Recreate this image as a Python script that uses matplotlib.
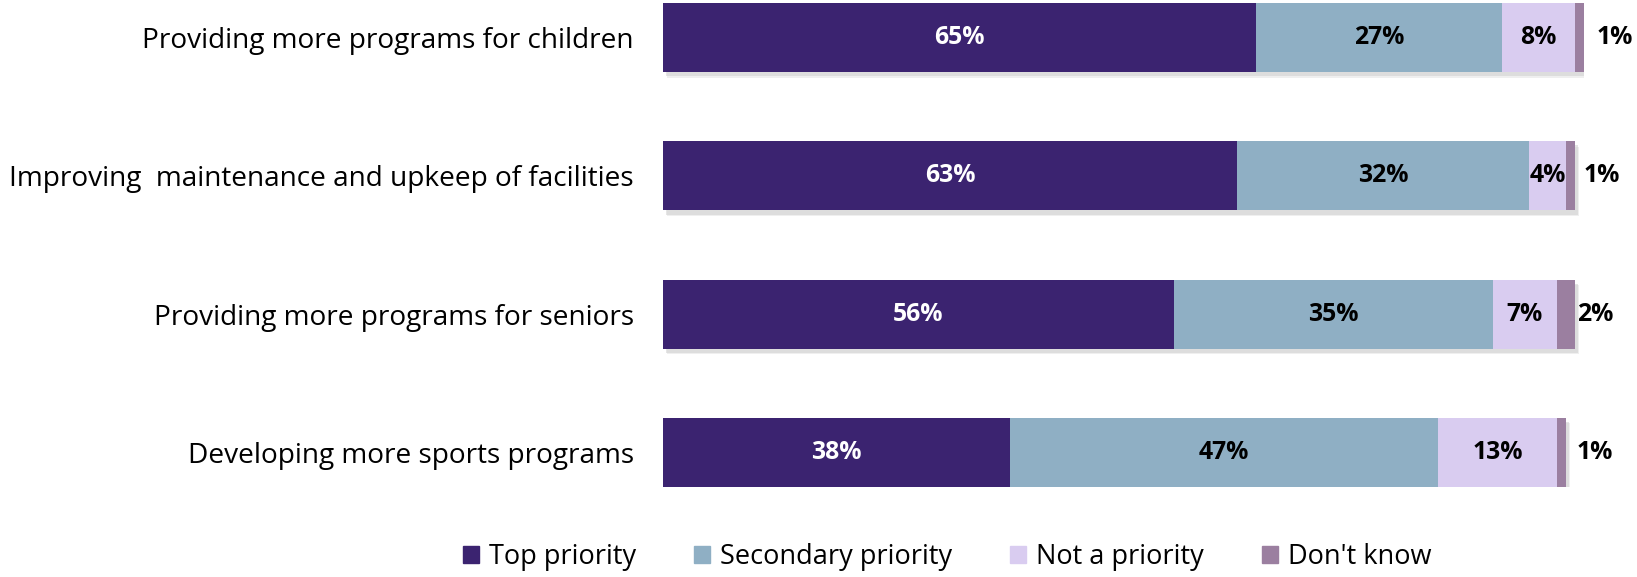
import matplotlib
matplotlib.use("Agg")
import matplotlib.pyplot as plt
import matplotlib.patheffects as pe
import numpy as np

categories = [
    "Providing more programs for children",
    "Improving  maintenance and upkeep of facilities",
    "Providing more programs for seniors",
    "Developing more sports programs",
]
series_names = ["Top priority", "Secondary priority", "Not a priority", "Don't know"]
top_priority = [65, 63, 56, 38]
secondary_priority = [27, 32, 35, 47]
not_a_priority = [8, 4, 7, 13]
dont_know = [1, 1, 2, 1]
colors = ["#3b2370", "#8fafc4", "#d9ccf0", "#9b7fa0"]
label_colors = ["white", "black", "black", "black"]
outside_nudge_px = [13, 9, 2, 11]

plt.rcParams['font.family'] = ['Open Sans', 'DejaVu Sans']

W, H = 1637, 577
fig = plt.figure(figsize=(W / 100, H / 100), dpi=100)
ax_left, ax_right = 663 / W, 1584 / W
ax_top, ax_bot = 1 - 3 / H, 1 - 487 / H
ax = fig.add_axes([ax_left, ax_bot, ax_right - ax_left, ax_top - ax_bot])

series = [top_priority, secondary_priority, not_a_priority, dont_know]
y = np.arange(len(categories))
height = 0.5
totals = np.sum(series, axis=0)

# shadow bars
sh = ax.barh(y, totals, height=height, color="white", zorder=1)
for p in sh:
    p.set_path_effects([pe.SimplePatchShadow(offset=(2, -3), shadow_rgbFace="#aaaaaa", alpha=0.3),
                        pe.SimplePatchShadow(offset=(3, -4), shadow_rgbFace="#cccccc", alpha=0.3),
                        pe.Normal()])

left = np.zeros(len(categories))
for vals, col, lc, name in zip(series, colors, label_colors, series_names):
    ax.barh(y, vals, left=left, height=height, color=col, label=name, zorder=2)
    for i, (v, l) in enumerate(zip(vals, left)):
        if name == "Don't know":
            ax.annotate(f"{v}%", xy=(l + v, y[i]), xytext=(outside_nudge_px[i] * 0.72, 0),
                        textcoords="offset points", ha="left", va="center", fontsize=17.8,
                        fontweight="bold", color="black", annotation_clip=False)
        else:
            ax.text(l + v / 2, y[i], f"{v}%", ha="center", va="center", fontsize=17.8,
                    fontweight="bold", color=lc, zorder=3)
    left += np.array(vals)

ax.set_xlim(0, 101)
ax.set_ylim(len(categories) - 1 + height / 2, -height / 2)
ax.set_yticks(y)
ax.set_yticklabels(categories, fontsize=20.2)
ax.tick_params(axis="y", length=0, pad=21)
ax.set_xticks([])
for s in ax.spines.values():
    s.set_visible(False)

handles = [plt.Rectangle((0, 0), 1, 1, color=c) for c in colors]
fig.legend(handles, series_names, loc="center", bbox_to_anchor=(947 / W, 1 - 557 / H),
           ncol=4, frameon=False, fontsize=19.5, handlelength=0.6, handleheight=0.6,
           handletextpad=0.35, columnspacing=2.15)

fig.savefig("out.png", dpi=100)
